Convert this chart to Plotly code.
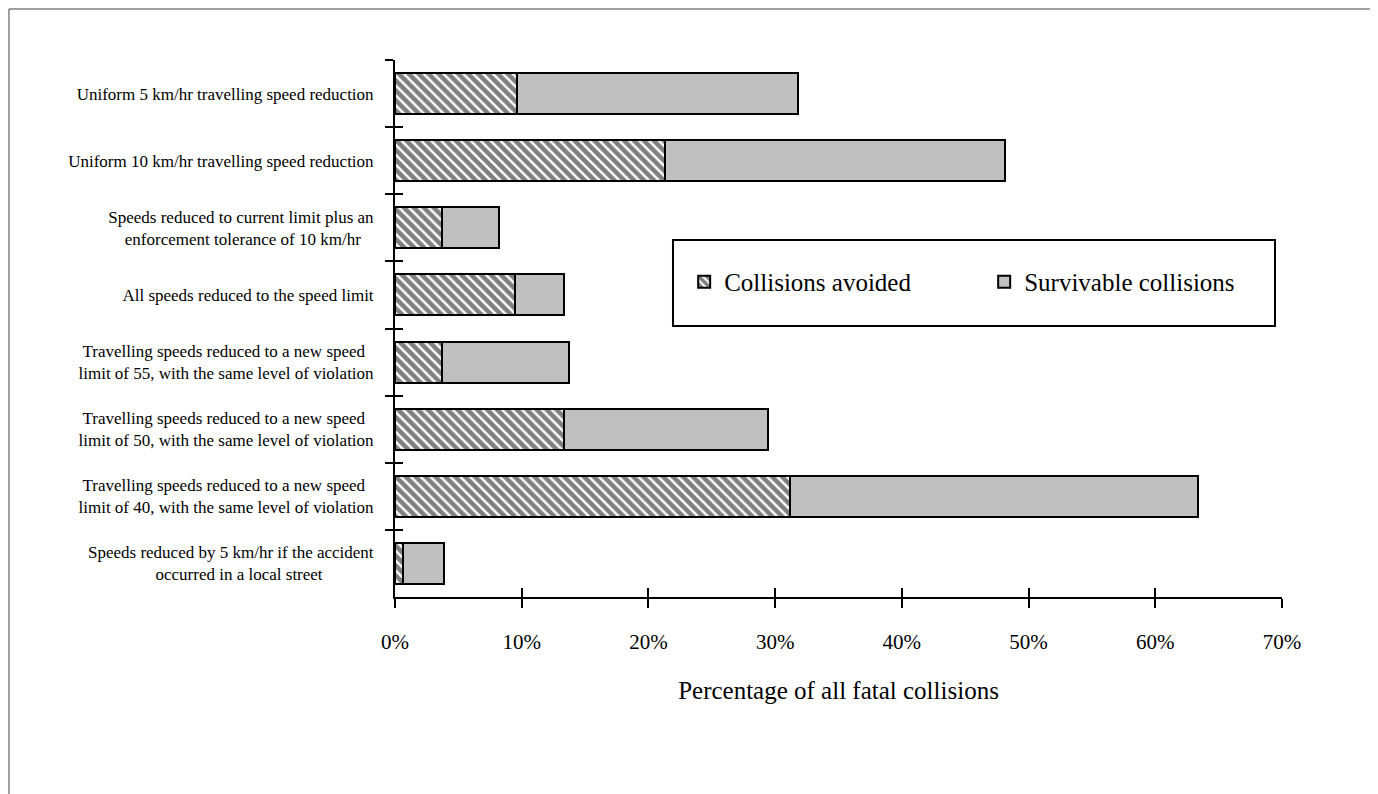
"""
Fatal collisions avoided / made survivable under speed-reduction scenarios.
"""
import plotly.graph_objects as go

SERIF = "Liberation Serif, Times New Roman, serif"
NB = "\u00a0"

scenarios = [
    "Uniform 5 km/hr travelling speed reduction",
    "Uniform 10 km/hr travelling speed reduction",
    "Speeds reduced to current limit plus an<br>enforcement tolerance of 10 km/hr" + NB * 3,
    "All speeds reduced to the speed limit",
    "Travelling speeds reduced to a new speed" + NB * 2 + "<br>limit of 55, with the same level of violation",
    "Travelling speeds reduced to a new speed" + NB * 2 + "<br>limit of 50, with the same level of violation",
    "Travelling speeds reduced to a new speed" + NB * 2 + "<br>limit of 40, with the same level of violation",
    "Speeds reduced by 5 km/hr if the accident<br>occurred in a local street" + NB * 12,
]
# percent of all fatal collisions
avoided = [9.6, 21.3, 3.7, 9.5, 3.7, 13.3, 31.2, 0.6]
survivable = [22.2, 26.8, 4.5, 3.8, 10.0, 16.1, 32.2, 3.3]

x_ticks = [0, 10, 20, 30, 40, 50, 60, 70]
x_ticktext = ["0%", "10%", "20%", "30%", "40%", "50%", "60%", "70%"]

fig = go.Figure()
fig.add_trace(
    go.Bar(
        x=avoided,
        y=scenarios,
        orientation="h",
        name="Collisions avoided",
        marker=dict(
            color="white",
            line=dict(color="black", width=2),
            pattern=dict(shape="\\", fgcolor="black", bgcolor="white", size=7, solidity=0.65),
        ),
    )
)
fig.add_trace(
    go.Bar(
        x=survivable,
        y=scenarios,
        orientation="h",
        name="Survivable collisions",
        marker=dict(color="#c0c0c0", line=dict(color="black", width=2)),
    )
)
# invisible trace so the overlay axes (crossing ticks) get their categories
fig.add_trace(
    go.Bar(
        x=[0] * len(scenarios),
        y=scenarios,
        orientation="h",
        xaxis="x2",
        yaxis="y2",
        showlegend=False,
        hoverinfo="skip",
        marker=dict(color="rgba(0,0,0,0)", line=dict(width=0)),
    )
)

fig.update_layout(
    width=1378,
    height=794,
    barmode="stack",
    bargap=0.39,
    paper_bgcolor="white",
    plot_bgcolor="white",
    font=dict(family=SERIF, color="black"),
    margin=dict(l=387, r=104, t=52, b=205),
    xaxis=dict(
        range=[0, 70],
        tickvals=x_ticks,
        ticktext=x_ticktext,
        ticks="outside",
        ticklen=9,
        tickwidth=2,
        tickcolor="black",
        showline=True,
        linecolor="black",
        linewidth=2,
        showgrid=False,
        zeroline=False,
        tickfont=dict(size=21),
        ticklabelstandoff=16,
        title=dict(text="Percentage of all fatal collisions", font=dict(size=25), standoff=28),
    ),
    xaxis2=dict(
        overlaying="x",
        anchor="y",
        range=[0, 70],
        tickvals=x_ticks,
        ticks="inside",
        ticklen=9,
        tickwidth=2,
        tickcolor="black",
        showticklabels=False,
        showgrid=False,
        zeroline=False,
    ),
    yaxis=dict(
        type="category",
        autorange="reversed",
        tickson="boundaries",
        ticks="outside",
        ticklen=8,
        tickwidth=2,
        tickcolor="black",
        showline=True,
        linecolor="black",
        linewidth=2,
        showgrid=False,
        tickfont=dict(size=17),
        ticklabelstandoff=16,
    ),
    yaxis2=dict(
        type="category",
        overlaying="y",
        anchor="x",
        autorange="reversed",
        tickson="boundaries",
        ticks="inside",
        ticklen=8,
        tickwidth=2,
        tickcolor="black",
        showticklabels=False,
        showgrid=False,
    ),
    legend=dict(
        orientation="h",
        traceorder="normal",
        x=0.326,
        y=0.5866,
        xanchor="left",
        yanchor="middle",
        entrywidth=255,
        entrywidthmode="pixels",
        font=dict(size=25),
        bgcolor="rgba(0,0,0,0)",
        borderwidth=0,
    ),
    shapes=[
        # legend frame
        dict(type="rect", xref="paper", yref="paper", x0=0.3134, x1=0.9921, y0=0.5047, y1=0.6648,
             line=dict(color="black", width=2), fillcolor="white", layer="below"),
        # outer chart frame
        dict(type="rect", xref="paper", yref="paper", x0=-0.4352, x1=1.1015, y0=-0.5, y1=1.095,
             line=dict(color="#444", width=1), fillcolor="rgba(0,0,0,0)", layer="below"),
    ],
    showlegend=True,
)

fig.write_html("out.html")
